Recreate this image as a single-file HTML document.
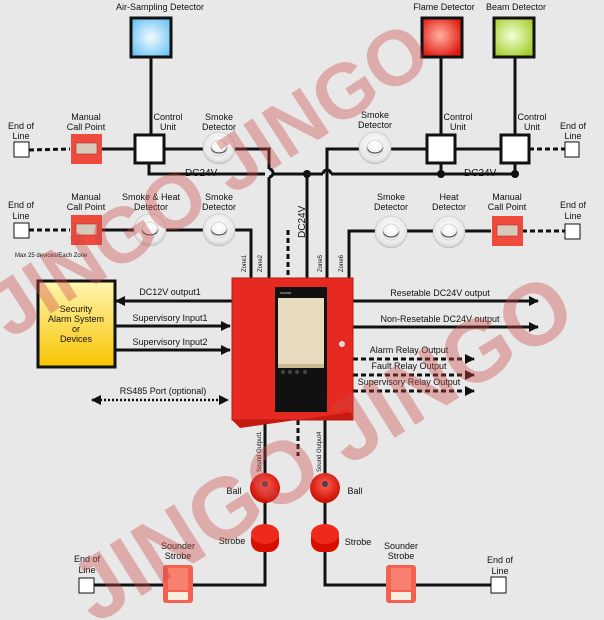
<!DOCTYPE html>
<html><head><meta charset="utf-8"><style>
html,body{margin:0;padding:0;background:#e8e8e8}
svg{display:block}
text{font-family:"Liberation Sans",sans-serif;font-size:9px;fill:#111}
</style></head><body>
<svg width="604" height="620" viewBox="0 0 604 620" xmlns="http://www.w3.org/2000/svg">
<defs>
<radialGradient id="gb" cx="0.5" cy="0.5" r="0.6"><stop offset="0" stop-color="#f4fbff"/><stop offset="1" stop-color="#6cc4f4"/></radialGradient>
<radialGradient id="gr" cx="0.45" cy="0.45" r="0.6"><stop offset="0" stop-color="#ffb0a0"/><stop offset="1" stop-color="#e01a10"/></radialGradient>
<radialGradient id="gg" cx="0.45" cy="0.45" r="0.6"><stop offset="0" stop-color="#f2ffd8"/><stop offset="1" stop-color="#a6d030"/></radialGradient>
<linearGradient id="gy" x1="0" y1="0" x2="0" y2="1"><stop offset="0" stop-color="#fff6b0"/><stop offset="1" stop-color="#f8c400"/></linearGradient>
<radialGradient id="gd" cx="0.5" cy="0.4" r="0.6"><stop offset="0" stop-color="#ffffff"/><stop offset="0.8" stop-color="#e8e8e8"/><stop offset="1" stop-color="#c8c8c8"/></radialGradient>
<radialGradient id="gbell" cx="0.5" cy="0.4" r="0.6"><stop offset="0" stop-color="#ff6050"/><stop offset="1" stop-color="#c80a00"/></radialGradient>
<g id="det"><circle r="16" fill="url(#gd)" stroke="#bbb" stroke-width="0.6"/><path d="M-8,-1 A8,6 0 0 0 8,-1" fill="none" stroke="#555" stroke-width="1.2"/><circle r="8" fill="none" stroke="#ccc" stroke-width="0.8"/></g>
<g id="mcp"><rect x="-15" y="-15" width="31" height="30" fill="#f04a3c"/><rect x="-10" y="-6" width="21" height="11" fill="#d8c8b8" stroke="#a33" stroke-width="0.6"/></g>
<g id="ss"><rect x="-15" y="-19" width="30" height="38" rx="3" fill="#f4614f"/><rect x="-10" y="-16" width="20" height="22" fill="#f7806f"/><rect x="-10" y="8" width="20" height="8" fill="#f7efe0"/></g>
<marker id="ah" markerWidth="10" markerHeight="10" refX="9" refY="5" orient="auto" markerUnits="userSpaceOnUse"><path d="M0,0 L10,5 L0,10 Z" fill="#111"/></marker>
<marker id="ahs" markerWidth="10" markerHeight="10" refX="1" refY="5" orient="auto" markerUnits="userSpaceOnUse"><path d="M10,0 L0,5 L10,10 Z" fill="#111"/></marker>
</defs>
<rect width="604" height="620" fill="#e8e8e8"/>

<g stroke="#111" stroke-width="3" fill="none">
<line x1="151" y1="57" x2="151" y2="135"/>
<line x1="441" y1="57" x2="441" y2="134"/>
<line x1="515" y1="57" x2="515" y2="134"/>
<line x1="101" y1="149" x2="135" y2="149"/>
<polyline points="164,149 269,149 269,169"/>
<path d="M269,169 a4,4 0 0 1 0,8"/>
<line x1="269" y1="177" x2="269" y2="280"/>
<polyline points="149,163 149,174 265,174"/>
<line x1="273" y1="174" x2="323" y2="174"/>
<line x1="331" y1="174" x2="515" y2="174"/>
<path d="M323,174 a4,4 0 0 1 8,0" />
<line x1="441" y1="163" x2="441" y2="174"/>
<line x1="515" y1="163" x2="515" y2="174"/>
<line x1="307" y1="174" x2="307" y2="280"/>
<polyline points="327,280 327,149 427,149"/>
<line x1="456" y1="149" x2="500" y2="149"/>
<polyline points="101,230 251,230 251,280"/>
<polyline points="349,280 349,231 491,231"/>
<line x1="232" y1="301" x2="116" y2="301" marker-end="url(#ah)"/>
<line x1="115" y1="326" x2="230" y2="326" marker-end="url(#ah)"/>
<line x1="115" y1="350" x2="230" y2="350" marker-end="url(#ah)"/>
<line x1="353" y1="301" x2="538" y2="301" marker-end="url(#ah)"/>
<line x1="353" y1="327" x2="538" y2="327" marker-end="url(#ah)"/>
<polyline points="265,418 265,585 94,585"/>
<polyline points="325,418 325,585 491,585"/>
</g>
<g stroke="#111" stroke-width="3" fill="none" stroke-dasharray="5,3">
<line x1="29" y1="150" x2="70" y2="149"/>
<line x1="29" y1="230" x2="70" y2="230"/>
<line x1="529" y1="149" x2="565" y2="149"/>
<line x1="522" y1="231" x2="565" y2="231"/>
<line x1="288" y1="230" x2="288" y2="278"/>
<line x1="298" y1="420" x2="298" y2="456"/>
<line x1="353" y1="359" x2="474" y2="359" marker-end="url(#ah)"/>
<line x1="353" y1="375" x2="474" y2="375" marker-end="url(#ah)"/>
<line x1="353" y1="391" x2="474" y2="391" marker-end="url(#ah)"/>
</g>
<line x1="92" y1="400" x2="228" y2="400" stroke="#111" stroke-width="2.5" stroke-dasharray="2,2" marker-start="url(#ahs)" marker-end="url(#ah)"/>
<g fill="#111"><circle cx="307" cy="174" r="4"/><circle cx="441" cy="174" r="4"/><circle cx="515" cy="174" r="4"/></g>

<rect x="131" y="18" width="40" height="39" fill="url(#gb)" stroke="#111" stroke-width="3"/>
<rect x="422" y="18" width="40" height="39" fill="url(#gr)" stroke="#111" stroke-width="3"/>
<rect x="494" y="18" width="40" height="39" fill="url(#gg)" stroke="#111" stroke-width="3"/>
<g fill="#fff" stroke="#111" stroke-width="3">
<rect x="135" y="135" width="29" height="28"/>
<rect x="427" y="135" width="28" height="28"/>
<rect x="501" y="135" width="28" height="28"/>
</g>
<g fill="#fff" stroke="#111" stroke-width="1">
<rect x="14" y="142" width="15" height="15"/>
<rect x="14" y="223" width="15" height="15"/>
<rect x="565" y="142" width="14" height="15"/>
<rect x="565" y="224" width="15" height="15"/>
<rect x="79" y="578" width="15" height="15"/>
<rect x="491" y="577" width="15" height="16"/>
</g>
<use href="#mcp" x="86" y="149"/>
<use href="#mcp" x="86" y="230"/>
<use href="#mcp" x="507" y="231"/>
<use href="#det" x="219" y="148"/>
<use href="#det" x="150" y="230"/>
<use href="#det" x="219" y="230"/>
<use href="#det" x="375" y="148"/>
<use href="#det" x="391" y="232"/>
<use href="#det" x="449" y="232"/>

<rect x="38" y="281" width="77" height="86" fill="url(#gy)" stroke="#111" stroke-width="3"/>

<rect x="232" y="278" width="121" height="142" fill="#e62a22" stroke="#b81810" stroke-width="1"/>
<polygon points="232,420 353,420 353,412 240,428" fill="#c41a12"/>
<rect x="275" y="287" width="52" height="125" fill="#111"/>
<rect x="278" y="298" width="46" height="66" fill="#e8dcc0"/>
<rect x="278" y="364" width="46" height="4" fill="#c9b990"/>
<g fill="#444"><circle cx="283" cy="372" r="2"/><circle cx="290" cy="372" r="2"/><circle cx="297" cy="372" r="2"/><circle cx="305" cy="372" r="2"/></g>
<circle cx="342" cy="344" r="3" fill="#ddd"/>
<text x="280" y="294" style="font-size:3px;fill:#ddd">MS1800</text>

<circle cx="265" cy="488" r="15" fill="url(#gbell)"/><circle cx="265" cy="484" r="3" fill="#445"/>
<circle cx="325" cy="488" r="15" fill="url(#gbell)"/><circle cx="325" cy="484" r="3" fill="#445"/>
<rect x="251" y="528" width="28" height="24" rx="10" fill="#d80e00"/><ellipse cx="265" cy="534" rx="14" ry="10" fill="#ee2a1c"/>
<rect x="311" y="528" width="28" height="24" rx="10" fill="#d80e00"/><ellipse cx="325" cy="534" rx="14" ry="10" fill="#ee2a1c"/>
<use href="#ss" x="178" y="584"/>
<use href="#ss" x="401" y="584"/>

<g text-anchor="middle">
<text x="160" y="10">Air-Sampling Detector</text>
<text x="444" y="10">Flame Detector</text>
<text x="516" y="10">Beam Detector</text>
<text x="21" y="129">End of</text><text x="21" y="139">Line</text>
<text x="86" y="120">Manual</text><text x="86" y="130">Call Point</text>
<text x="168" y="120">Control</text><text x="168" y="130">Unit</text>
<text x="219" y="120">Smoke</text><text x="219" y="130">Detector</text>
<text x="375" y="118">Smoke</text><text x="375" y="128">Detector</text>
<text x="458" y="120">Control</text><text x="458" y="130">Unit</text>
<text x="532" y="120">Control</text><text x="532" y="130">Unit</text>
<text x="573" y="129">End of</text><text x="573" y="139">Line</text>
<text x="21" y="208">End of</text><text x="21" y="219">Line</text>
<text x="86" y="200">Manual</text><text x="86" y="210">Call Point</text>
<text x="151" y="200">Smoke &amp; Heat</text><text x="151" y="210">Detector</text>
<text x="219" y="200">Smoke</text><text x="219" y="210">Detector</text>
<text x="391" y="200">Smoke</text><text x="391" y="210">Detector</text>
<text x="449" y="200">Heat</text><text x="449" y="210">Detector</text>
<text x="507" y="200">Manual</text><text x="507" y="210">Call Point</text>
<text x="573" y="208">End of</text><text x="573" y="219">Line</text>
<text x="76" y="312">Security</text><text x="76" y="322">Alarm System</text><text x="76" y="332">or</text><text x="76" y="342">Devices</text>
<text x="170" y="295">DC12V output1</text>
<text x="170" y="321">Supervisory Input1</text>
<text x="170" y="345">Supervisory Input2</text>
<text x="163" y="394">RS485 Port (optional)</text>
<text x="440" y="296">Resetable DC24V output</text>
<text x="440" y="322">Non-Resetable DC24V output</text>
<text x="409" y="353">Alarm Relay Output</text>
<text x="409" y="369">Fault Relay Output</text>
<text x="409" y="385">Supervisory Relay Output</text>
<text x="234" y="494">Ball</text><text x="355" y="494">Ball</text>
<text x="232" y="544">Strobe</text><text x="358" y="545">Strobe</text>
<text x="178" y="549">Sounder</text><text x="178" y="559">Strobe</text>
<text x="401" y="549">Sounder</text><text x="401" y="559">Strobe</text>
<text x="87" y="562">End of</text><text x="87" y="573">Line</text>
<text x="500" y="563">End of</text><text x="500" y="574">Line</text>
</g>
<text x="15" y="257" style="font-size:6px">Max 25 devices/Each Zone</text>
<text x="185" y="176" style="font-size:10px">DC24V</text>
<text x="464" y="176" style="font-size:10px">DC24V</text>
<text transform="translate(305,238) rotate(-90)" style="font-size:10px">DC24V</text>
<text transform="translate(246,272) rotate(-90)" style="font-size:6px">Zone1</text>
<text transform="translate(262,272) rotate(-90)" style="font-size:6px">Zone2</text>
<text transform="translate(322,272) rotate(-90)" style="font-size:6px">Zone5</text>
<text transform="translate(343,272) rotate(-90)" style="font-size:6px">Zone6</text>
<text transform="translate(261,472) rotate(-90)" style="font-size:6px">Sound Output1</text>
<text transform="translate(321,472) rotate(-90)" style="font-size:6px">Sound Output4</text>

<text x="0" y="0" transform="translate(10,340) rotate(-33)" style="font-size:78px;font-weight:bold;fill:rgba(205,70,70,0.38)">JINGO JINGO</text>
<text x="0" y="0" transform="translate(95,625) rotate(-32)" style="font-size:88px;font-weight:bold;fill:rgba(205,70,70,0.38)">JINGO JINGO</text>
</svg>
</body></html>
